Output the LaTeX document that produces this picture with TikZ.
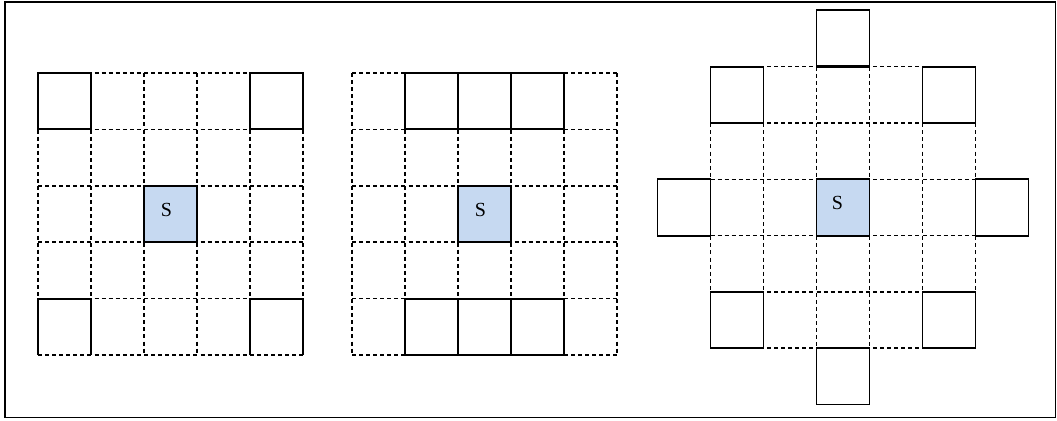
\documentclass[tikz,border=0pt]{standalone}
\usepackage{fontspec}
\setmainfont{Liberation Serif}
\definecolor{sblue}{RGB}{198,217,241}
\begin{document}
\begin{tikzpicture}[x=0.75pt,y=-0.75pt,
  dashline/.style={line width=1.1pt,dash pattern=on 3pt off 2.3pt},
  solidline/.style={line width=1.4pt,line join=miter},
  scell/.style={solidline,fill=sblue},
  stext/.style={inner sep=0pt,font=\fontsize{15}{15}\selectfont}]
\useasboundingbox (0,0) rectangle (1057,421);
% frame
\draw[solidline] (4.7,1.7) rectangle (1055.5,417.5);

% ---------- grid 1 ----------
\foreach \i in {0,...,5} {
  \draw[dashline] (38+\i*53,73) -- (38+\i*53,355);
  \draw[dashline] (38,73+\i*56.4) -- (303,73+\i*56.4);
}
\draw[solidline] (38,73) rectangle (91,129.4);
\draw[solidline] (250,73) rectangle (303,129.4);
\draw[solidline] (38,355) -- (38,298.6) -- (91,298.6) -- (91,355);
\draw[solidline] (250,355) -- (250,298.6) -- (303,298.6) -- (303,355);
\draw[scell] (144,185.8) rectangle (197,242.2);
\node[stext] (s1) at (166.5,209.5) {S};

% ---------- grid 2 ----------
\foreach \i in {0,...,5} {
  \draw[dashline] (352+\i*53,73) -- (352+\i*53,355);
  \draw[dashline] (352,73+\i*56.4) -- (617,73+\i*56.4);
}
\foreach \c in {405,458,511} {
  \draw[solidline] (\c,73) rectangle (\c+53,129.4);
  \draw[solidline] (\c,298.6) rectangle (\c+53,355);
}
\draw[scell] (458,185.8) rectangle (511,242.2);
\node[stext] (s2) at (480.5,209.5) {S};

% ---------- grid 3 ----------
\foreach \i in {0,...,5} {
  \draw[dashline] (710.5+\i*53,66.7) -- (710.5+\i*53,348.2);
  \draw[dashline] (710.5,66.7+\i*56.3) -- (975.5,66.7+\i*56.3);
}
\draw[solidline] (710.5,66.7) rectangle (763.5,123);
\draw[solidline] (922.5,66.7) rectangle (975.5,123);
\draw[solidline] (710.5,291.9) rectangle (763.5,348.2);
\draw[solidline] (922.5,291.9) rectangle (975.5,348.2);
\draw[solidline] (816.5,10.4) rectangle (869.5,66.7);
\draw[line width=2pt] (816.5,66.7) -- (869.5,66.7);
\draw[solidline] (816.5,348.2) rectangle (869.5,404.5);
\draw[solidline] (657.5,179.3) rectangle (710.5,235.6);
\draw[solidline] (975.5,179.3) rectangle (1028.5,235.6);
\draw[scell] (816.5,179.3) rectangle (869.5,235.6);
\node[stext] (s3) at (837.5,203) {S};
\end{tikzpicture}
\end{document}
